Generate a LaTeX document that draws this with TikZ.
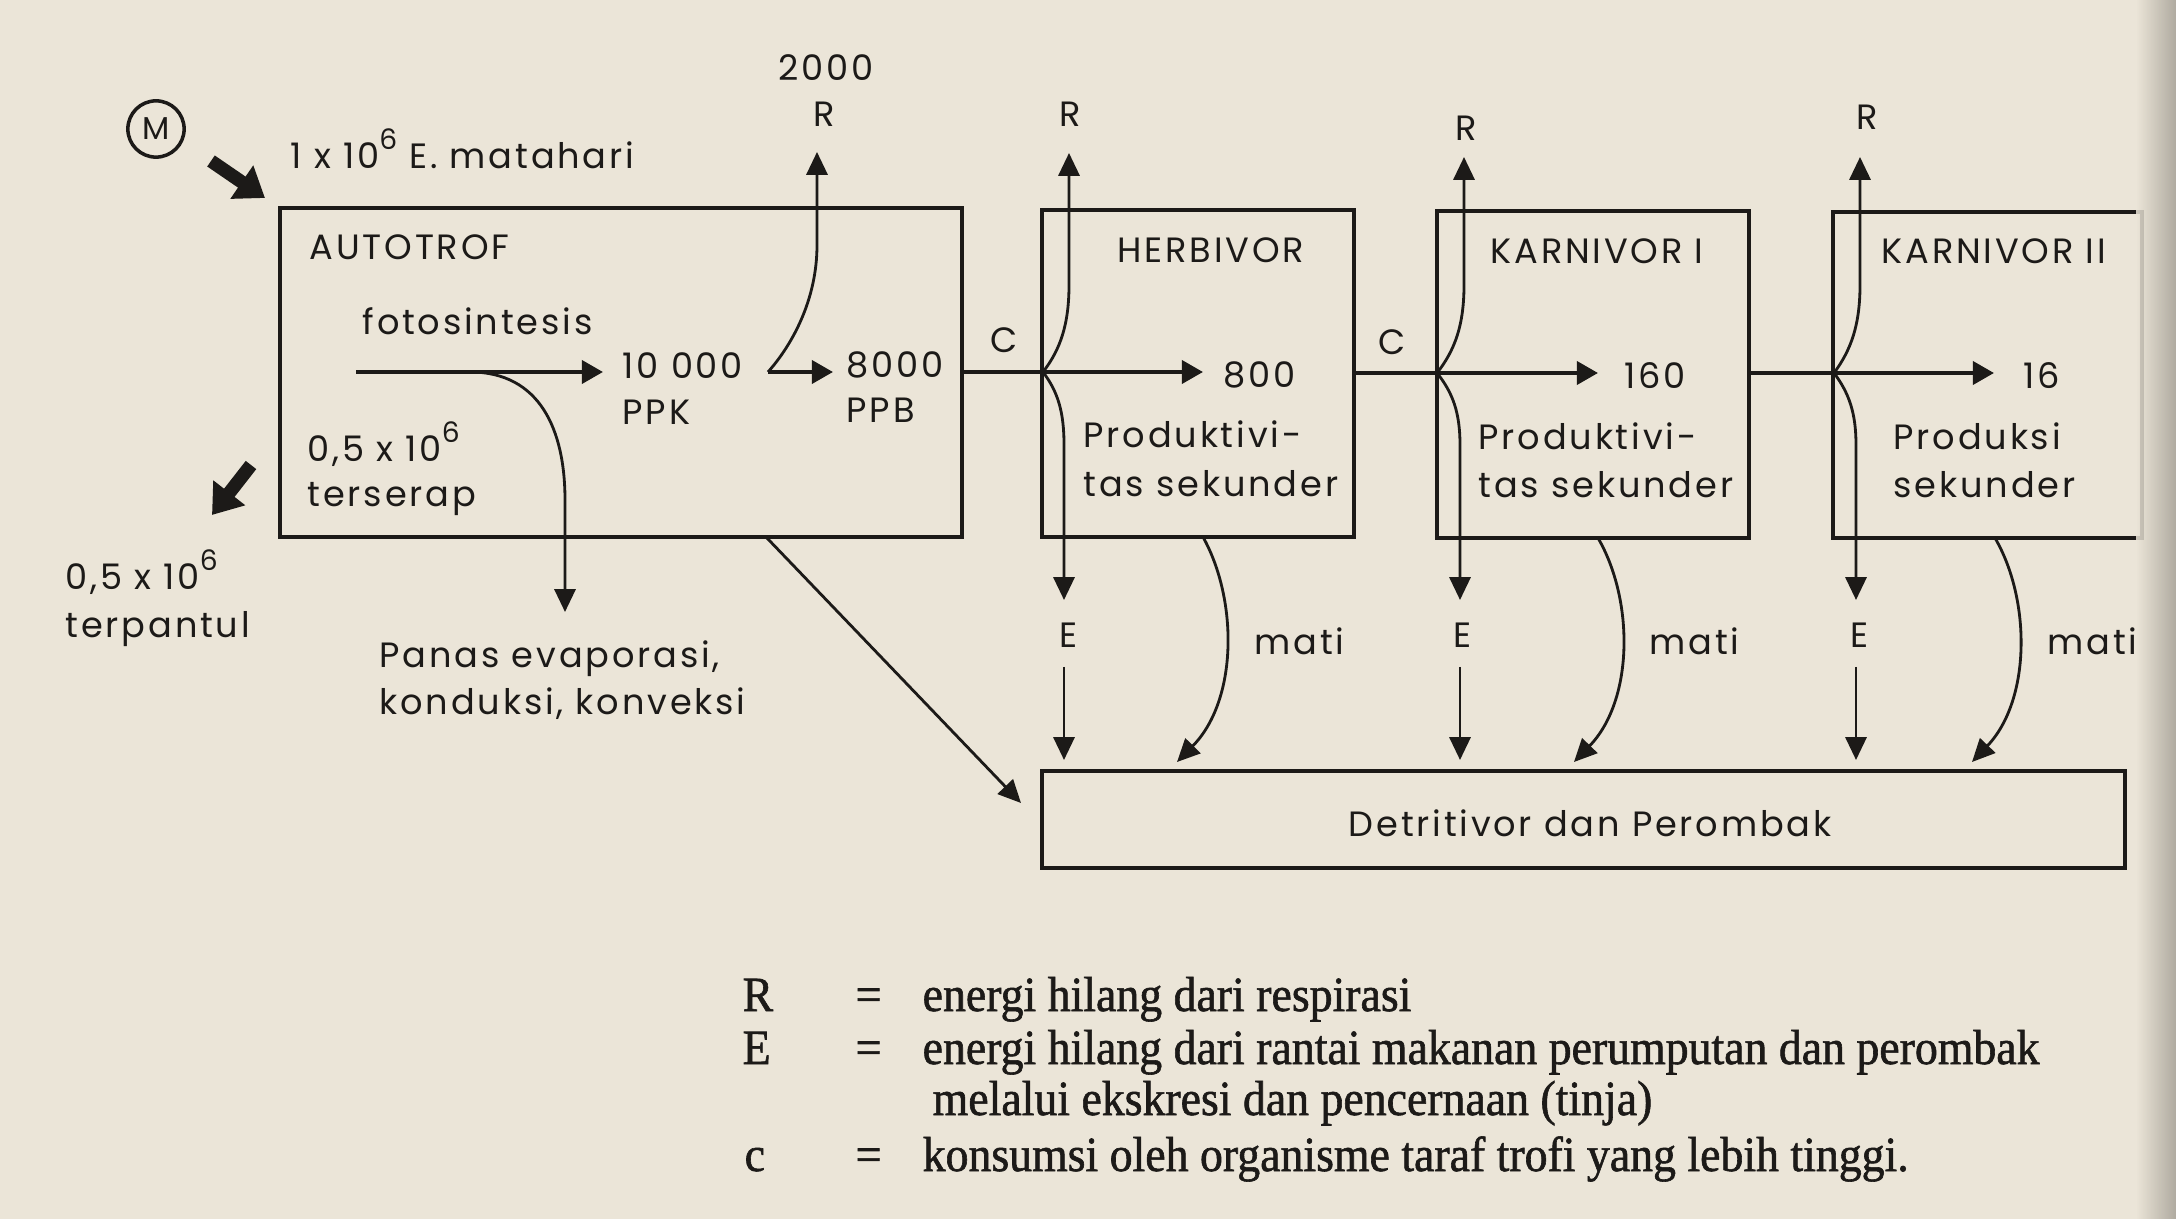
\documentclass[tikz,border=0pt]{standalone}
\usepackage{fontspec}
\usetikzlibrary{arrows.meta,calc,fit}
\newfontfamily\diafont[LetterSpace=8]{Poppins}
\newfontfamily\legfont[FakeStretch=0.93,FakeBold=1.2]{Liberation Serif}
\definecolor{paper}{RGB}{235,229,216}
\definecolor{ink}{RGB}{28,26,24}
\definecolor{gutter}{RGB}{165,160,150}
\newcommand{\sixsup}{\raisebox{1ex}{\fontsize{8}{8}\selectfont 6}}

\begin{document}
\begin{tikzpicture}[x=0.01cm, y=-0.01cm,
    box/.style={draw=ink, line width=1.3pt, inner sep=0pt},
    flow/.style={draw=ink, line width=1.2pt, -{Triangle[length=6pt,width=6.5pt]}},
    loss/.style={draw=ink, line width=0.8pt, -{Triangle[length=6.5pt,width=6pt]}},
    fat/.style={draw=ink, line width=3.8pt, -{Triangle[length=8pt,width=11pt]}},
    txt/.style={font=\diafont\fontsize{10}{12}\selectfont, text=ink, inner sep=0pt, anchor=base west},
    leg/.style={font=\legfont\fontsize{14}{16}\selectfont, text=ink, inner sep=0pt, anchor=base west}]
    % paper
    \useasboundingbox(0,0)rectangle(2176,1219);
    \path[fill=paper](0,0)rectangle(2176,1219);
    % boxes
    \node[box, fit={(280,208)(962,537)}](auto){};
    \node[box, fit={(1042,210)(1354,537)}](herb){};
    \node[box, fit={(1437,211)(1749,538)}](karnA){};
    \node[box, fit={(1833,212)(2142,538)}](karnB){};
    \node[box, fit={(1042,771)(2125,868)}](detri){};
    % sun
    \node[draw=ink, circle, line width=1pt, minimum size=16pt, inner sep=0pt,
          font=\diafont\fontsize{9}{9}\selectfont, text=ink](sun)at(156,129){M};
    \coordinate(sunA)at(211,161);
    \coordinate(sunB)at(265,198);
    \path[fat](sunA)to(sunB);
    \node[txt](matahari)at(290,169){1 x 10\sixsup\ E. matahari};
    % reflected
    \coordinate(refA)at(251,465);
    \coordinate(refB)at(212,515);
    \path[fat](refA)to(refB);
    \node[txt](pantulA)at(65,590){0,5 x 10\sixsup};
    \node[txt](pantulB)at(65,637){terpantul};
    % autotrof
    \node[txt](autoname)at(309,260){AUTOTROF};
    \node[txt](foto)at(362,335){fotosintesis};
    \node[txt](serapA)at(307,462){0,5 x 10\sixsup};
    \node[txt](serapB)at(307,507){terserap};
    \coordinate(fotoS)at(356,372);
    \coordinate(ppkT)at(603,372);
    \path[flow](fotoS)to(ppkT);
    \node[txt](ppk)at(622,379){10 000};
    \node[txt](ppkname)at(622,425){PPK};
    % heat
    \coordinate(heatS)at(470,372);
    \coordinate(heatT)at(565,612);
    \path[loss](heatS).. controls (540,372) and (565,430) .. (565,500)--(heatT);
    \node[txt](panasA)at(379,667){Panas evaporasi,};
    \node[txt](panasB)at(379,715){konduksi, konveksi};
    % respiration of autotrof
    \coordinate(hook)at(768,372);
    \coordinate(ppbT)at(833,372);
    \coordinate(autoR)at(817,152);
    \path[flow](hook)to(ppbT);
    \path[loss](hook).. controls (792,345) and (817,300) .. (817,245)--(autoR);
    \node[txt](twok)at(778,81){2000};
    \node[txt](autoRname)at(813,127){R};
    \node[txt](ppb)at(846,378){8000};
    \node[txt](ppbname)at(846,423){PPB};
    % to detritivor
    \coordinate(diagS)at(766,537);
    \coordinate(diagT)at(1021,803);
    \path[loss](diagS)to(diagT);
    % herbivor
    \coordinate(herbC)at(1043,372);
    \coordinate(herbT)at(1203,372);
    \path[draw=ink, line width=1.2pt](auto.east|-herbC)to(herbC);
    \path[flow](herbC)to(herbT);
    \path[loss](herbC).. controls (1060,350) and (1069,325) .. (1069,285)--(1069,153);
    \path[loss](herbC).. controls (1058,392) and (1064,412) .. (1064,445)--(1064,600);
    \path[loss](1064,667)--(1064,760);
    \path[loss](1203,537).. controls (1238,600) and (1238,700) .. (1177,762);
    \node[txt](herbname)at(1117,263){HERBIVOR};
    \node[txt](herbval)at(1223,388){800};
    \node[txt](herbpA)at(1083,448){Produktivi-};
    \node[txt](herbpB)at(1083,497){tas sekunder};
    \node[txt](herbR)at(1059,127){R};
    \node[txt](herbE)at(1059,647){E};
    \node[txt](herbc)at(990,353){C};
    \node[txt](herbmati)at(1254,655){mati};
    % karnivor I
    \coordinate(karnAC)at(1437,373);
    \coordinate(karnAT)at(1598,373);
    \path[draw=ink, line width=1.2pt](herb.east|-karnAC)to(karnAC);
    \path[flow](karnAC)to(karnAT);
    \path[loss](karnAC).. controls (1455,350) and (1464,325) .. (1464,285)--(1464,157);
    \path[loss](karnAC).. controls (1453,393) and (1460,413) .. (1460,445)--(1460,600);
    \path[loss](1460,667)--(1460,760);
    \path[loss](1598,538).. controls (1634,600) and (1634,700) .. (1574,762);
    \node[txt](karnAname)at(1490,264){KARNIVOR I};
    \node[txt](karnAval)at(1624,389){160};
    \node[txt](karnApA)at(1478,450){Produktivi-};
    \node[txt](karnApB)at(1478,498){tas sekunder};
    \node[txt](karnAR)at(1455,141){R};
    \node[txt](karnAE)at(1453,647){E};
    \node[txt](karnAc)at(1378,355){C};
    \node[txt](karnAmati)at(1649,655){mati};
    % karnivor II
    \coordinate(karnBC)at(1834,373);
    \coordinate(karnBT)at(1994,373);
    \path[draw=ink, line width=1.2pt](karnA.east|-karnBC)to(karnBC);
    \path[flow](karnBC)to(karnBT);
    \path[loss](karnBC).. controls (1851,350) and (1860,325) .. (1860,285)--(1860,157);
    \path[loss](karnBC).. controls (1849,393) and (1856,413) .. (1856,445)--(1856,600);
    \path[loss](1856,667)--(1856,760);
    \path[loss](1995,538).. controls (2031,600) and (2031,700) .. (1972,762);
    \node[txt](karnBname)at(1881,264){KARNIVOR II};
    \node[txt](karnBval)at(2023,389){16};
    \node[txt](karnBpA)at(1893,450){Produksi};
    \node[txt](karnBpB)at(1893,498){sekunder};
    \node[txt](karnBR)at(1856,130){R};
    \node[txt](karnBE)at(1850,647){E};
    \node[txt](karnBmati)at(2047,655){mati};
    % detritivor
    \node[txt](detriname)at(1348,836){Detritivor dan Perombak};
    % legend
    \node[leg](legR)at(742,1011){R};
    \node[leg](legReq)at(855,1011){=};
    \node[leg](legRtx)at(922,1011){energi hilang dari respirasi};
    \node[leg](legE)at(742,1064){E};
    \node[leg](legEeq)at(855,1064){=};
    \node[leg](legEtx)at(922,1064){energi hilang dari rantai makanan perumputan dan perombak};
    \node[leg](legEtxb)at(932,1115){melalui ekskresi dan pencernaan (tinja)};
    \node[leg](legC)at(744,1171){c};
    \node[leg](legCeq)at(855,1171){=};
    \node[leg](legCtx)at(922,1171){konsumsi oleh organisme taraf trofi yang lebih tinggi.};
    % gutter
    \path[shade, left color=paper, right color=gutter, opacity=0.85](2136,0)rectangle(2176,1219);
\end{tikzpicture}
\end{document}
